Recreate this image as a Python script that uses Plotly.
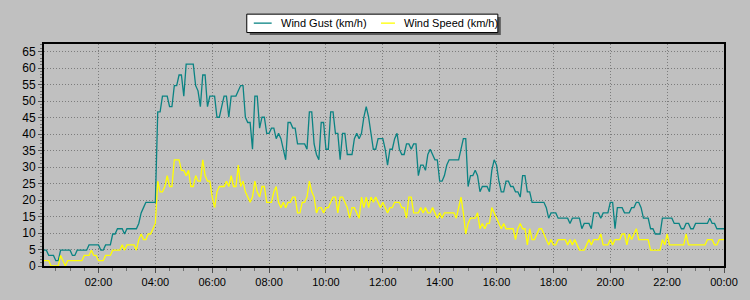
import pandas as pd
import plotly.graph_objects as go

# 5-minute samples, 00:05 .. 24:00 (one row per hour)
gust_kmh = [
    4.8, 4.8, 3.2, 3.2, 3.2, 1.6, 1.6, 4.8, 4.8, 4.8, 4.8, 4.8,
    3.2, 3.2, 4.8, 4.8, 4.8, 4.8, 4.8, 6.4, 6.4, 6.4, 6.4, 6.4,
    4.8, 4.8, 6.4, 6.4, 6.4, 9.7, 9.7, 11.3, 11.3, 11.3, 9.7, 11.3,
    11.3, 11.3, 11.3, 11.3, 12.9, 16.1, 17.7, 19.3, 19.3, 19.3, 19.3, 19.3,
    46.7, 46.7, 51.5, 51.5, 51.5, 48.3, 48.3, 54.7, 54.7, 57.9, 57.9, 51.5,
    61.2, 61.2, 61.2, 61.2, 54.7, 53.1, 48.3, 57.9, 57.9, 48.3, 51.5, 51.5,
    51.5, 45.1, 45.1, 48.3, 51.5, 51.5, 45.1, 51.5, 51.5, 51.5, 53.1, 54.7,
    54.7, 45.1, 43.5, 43.5, 35.4, 51.5, 51.5, 41.8, 45.1, 45.1, 40.2, 40.2,
    41.8, 41.8, 38.6, 40.2, 38.6, 35.4, 32.2, 43.5, 43.5, 41.8, 41.8, 37.0,
    37.0, 37.0, 37.0, 35.4, 46.7, 46.7, 37.0, 33.8, 32.2, 43.5, 43.5, 35.4,
    35.4, 46.7, 46.7, 40.2, 40.2, 32.2, 40.2, 40.2, 33.8, 33.8, 33.8, 38.6,
    40.2, 38.6, 40.2, 45.1, 48.3, 45.1, 40.2, 35.4, 35.4, 38.6, 38.6, 38.6,
    35.4, 30.6, 35.4, 35.4, 38.6, 40.2, 35.4, 33.8, 33.8, 37.0, 37.0, 35.4,
    37.0, 37.0, 27.4, 30.6, 30.6, 29.0, 33.8, 35.4, 33.8, 32.2, 32.2, 25.7,
    25.7, 27.4, 30.6, 32.2, 32.2, 32.2, 32.2, 32.2, 35.4, 38.6, 38.6, 24.1,
    27.4, 27.4, 29.0, 27.4, 22.5, 24.1, 24.1, 24.1, 22.5, 29.0, 32.2, 30.6,
    25.7, 22.5, 22.5, 25.7, 25.7, 24.1, 24.1, 22.5, 22.5, 20.9, 27.4, 27.4,
    22.5, 22.5, 19.3, 19.3, 19.3, 19.3, 19.3, 19.3, 17.7, 14.5, 16.1, 16.1,
    16.1, 14.5, 14.5, 14.5, 14.5, 14.5, 12.9, 14.5, 14.5, 14.5, 14.5, 11.3,
    12.9, 12.9, 12.9, 11.3, 16.1, 16.1, 16.1, 14.5, 16.1, 16.1, 16.1, 19.3,
    19.3, 11.3, 17.7, 17.7, 17.7, 16.1, 16.1, 16.1, 17.7, 17.7, 19.3, 19.3,
    17.7, 14.5, 14.5, 14.5, 11.3, 11.3, 9.7, 9.7, 9.7, 14.5, 14.5, 14.5,
    14.5, 14.5, 12.9, 12.9, 12.9, 11.3, 11.3, 12.9, 12.9, 11.3, 11.3, 12.9,
    12.9, 12.9, 12.9, 12.9, 12.9, 14.5, 12.9, 12.9, 11.3, 11.3, 11.3, 11.3,
]

speed_kmh = [
    1.6, 1.6, 1.6, 0.0, 0.0, 0.0, 0.0, 3.2, 1.6, 0.0, 1.6, 1.6,
    1.6, 1.6, 1.6, 1.6, 1.6, 3.2, 3.2, 3.2, 4.8, 3.2, 3.2, 1.6,
    1.6, 1.6, 3.2, 3.2, 3.2, 4.8, 4.8, 4.8, 4.8, 6.4, 4.8, 6.4,
    6.4, 6.4, 6.4, 4.8, 8.0, 9.7, 8.0, 8.0, 9.7, 9.7, 11.3, 12.9,
    25.7, 22.5, 22.5, 24.1, 27.4, 24.1, 24.1, 32.2, 32.2, 32.2, 29.0, 29.0,
    27.4, 29.0, 24.1, 24.1, 27.4, 25.7, 25.7, 32.2, 27.4, 25.7, 25.7, 20.9,
    17.7, 22.5, 24.1, 24.1, 24.1, 25.7, 24.1, 27.4, 24.1, 24.1, 30.6, 24.1,
    25.7, 22.5, 20.9, 19.3, 20.9, 25.7, 22.5, 20.9, 24.1, 24.1, 19.3, 19.3,
    19.3, 22.5, 24.1, 19.3, 17.7, 19.3, 17.7, 19.3, 19.3, 20.9, 20.9, 16.1,
    16.1, 19.3, 19.3, 20.9, 25.7, 22.5, 20.9, 16.1, 17.7, 17.7, 16.1, 17.7,
    17.7, 19.3, 20.9, 20.9, 16.1, 20.9, 20.9, 19.3, 17.7, 14.5, 17.7, 17.7,
    16.1, 14.5, 20.9, 17.7, 20.9, 17.7, 20.9, 19.3, 20.9, 19.3, 17.7, 19.3,
    17.7, 16.1, 17.7, 17.7, 19.3, 19.3, 19.3, 17.7, 17.7, 14.5, 20.9, 20.9,
    16.1, 16.1, 16.1, 17.7, 16.1, 17.7, 16.1, 16.1, 17.7, 16.1, 14.5, 16.1,
    14.5, 16.1, 16.1, 16.1, 16.1, 16.1, 14.5, 17.7, 20.9, 16.1, 9.7, 12.9,
    14.5, 14.5, 14.5, 16.1, 11.3, 12.9, 11.3, 12.9, 12.9, 17.7, 16.1, 14.5,
    12.9, 11.3, 12.9, 11.3, 11.3, 11.3, 11.3, 8.0, 11.3, 12.9, 11.3, 11.3,
    6.4, 11.3, 8.0, 8.0, 9.7, 11.3, 11.3, 9.7, 8.0, 6.4, 8.0, 6.4,
    6.4, 8.0, 8.0, 8.0, 8.0, 6.4, 8.0, 6.4, 8.0, 6.4, 4.8, 4.8,
    4.8, 6.4, 8.0, 6.4, 8.0, 8.0, 8.0, 9.7, 6.4, 6.4, 6.4, 8.0,
    6.4, 8.0, 8.0, 8.0, 9.7, 9.7, 6.4, 9.7, 8.0, 9.7, 11.3, 8.0,
    8.0, 8.0, 8.0, 8.0, 4.8, 4.8, 4.8, 4.8, 4.8, 8.0, 6.4, 9.7,
    6.4, 6.4, 6.4, 6.4, 6.4, 6.4, 6.4, 9.7, 6.4, 6.4, 6.4, 6.4,
    6.4, 6.4, 6.4, 6.4, 8.0, 8.0, 8.0, 6.4, 6.4, 8.0, 8.0, 8.0,
]

times = pd.date_range("2024-05-01 00:05", "2024-05-02 00:00", freq="5min")

series_names = ["Wind Gust (km/h)", "Wind Speed (km/h)"]
series_colors = ["#0a8383", "#ffff00"]

BG = "#c0c0c0"
FONT = "Liberation Sans, Arial, sans-serif"
GRID = "#7c7c7c"

fig = go.Figure()
fig.add_trace(go.Scatter(x=times, y=gust_kmh, mode="lines", name=series_names[0],
                         line=dict(color=series_colors[0], width=1.3)))
fig.add_trace(go.Scatter(x=times, y=speed_kmh, mode="lines", name=series_names[1],
                         line=dict(color=series_colors[1], width=1.3)))

# ---- custom legend (box, shadow, line samples, labels) in paper coords ----
fig.add_shape(type="rect", xref="paper", yref="paper",
              x0=0.3026, x1=0.6718, y0=1.0404, y1=1.1211,
              fillcolor="#5a5a5a", line=dict(width=0))
fig.add_shape(type="rect", xref="paper", yref="paper",
              x0=0.2982, x1=0.6674, y0=1.0516, y1=1.1345,
              fillcolor="#ffffff", line=dict(color="#000000", width=1))
legend_line_x = [(0.3085, 0.3348), (0.4956, 0.5161)]
legend_text_x = [0.3450, 0.5263]
for name, color, (lx0, lx1), tx in zip(series_names, series_colors, legend_line_x, legend_text_x):
    fig.add_shape(type="line", xref="paper", yref="paper",
                  x0=lx0, x1=lx1, y0=1.0940, y1=1.0940,
                  line=dict(color=color, width=1.3))
    fig.add_annotation(xref="paper", yref="paper", x=tx, y=1.0940,
                       xanchor="left", yanchor="middle", showarrow=False,
                       text=name, font=dict(family=FONT, size=11, color="#000000"))

fig.update_layout(
    width=750, height=300,
    margin=dict(l=44, r=22, t=44, b=33),
    paper_bgcolor=BG, plot_bgcolor=BG,
    font=dict(family=FONT, size=11, color="#000000"),
    showlegend=False,
    xaxis=dict(
        type="date",
        range=["2024-05-01 00:05", "2024-05-02 00:00"],
        tick0="2024-05-01 00:00", dtick=2 * 3600 * 1000,
        tickformat="%H:%M",
        showgrid=True, gridcolor=GRID, griddash="1px,2px", gridwidth=1,
        ticks="outside", ticklen=5, tickcolor="#505050", tickwidth=1,
        minor=dict(dtick=30 * 60 * 1000, ticks="outside", ticklen=3,
                   tickcolor="#707070", showgrid=False),
        showline=True, linecolor="#000000", linewidth=2, mirror=True,
        zeroline=False,
        tickfont=dict(family=FONT, size=11, color="#000000"),
        fixedrange=True,
    ),
    yaxis=dict(
        range=[0, 67.3],
        tick0=0, dtick=5,
        showgrid=True, gridcolor=GRID, griddash="1px,2px", gridwidth=1,
        ticks="outside", ticklen=4, tickcolor="#505050", tickwidth=1,
        minor=dict(dtick=1, ticks="outside", ticklen=2, tickcolor="#707070",
                   showgrid=False),
        showline=True, linecolor="#000000", linewidth=2, mirror=True,
        zeroline=False,
        tickfont=dict(family=FONT, size=12, color="#000000"),
        fixedrange=True,
    ),
)

fig.write_html("out.html")
